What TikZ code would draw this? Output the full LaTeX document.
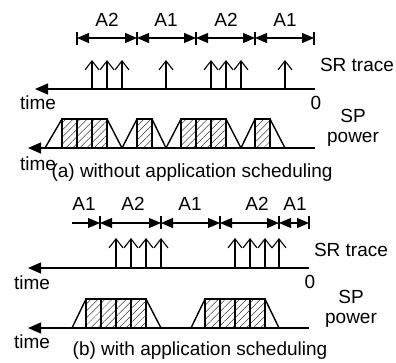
\documentclass[tikz,border=0pt]{standalone}
\usepackage{fontspec}
\setmainfont{Liberation Sans}
\usetikzlibrary{arrows.meta,patterns.meta}
\begin{document}
\begin{tikzpicture}[x=1pt,y=-1pt,
  lbl/.style={font=\fontsize{19}{21}\selectfont, inner sep=0pt},
  axis/.style={line width=1.2pt, -{Triangle[length=13pt,width=11pt]}},
  dimarr/.style={line width=1.1pt, {Triangle[length=12pt,width=10pt]}-{Triangle[length=12pt,width=10pt]}},
  dimone/.style={line width=1.1pt, -{Triangle[length=12pt,width=10pt]}},
  tickmark/.style={line width=1.1pt},
  srarr/.style={line width=1.1pt, -{Straight Barb[length=9pt,width=14pt,line width=1.1pt]}},
  trap/.style={line width=1.4pt},
  hatch/.style={line width=1.4pt, pattern={Lines[angle=45,distance=5pt,line width=0.35pt]}}
]
\useasboundingbox (0,0) rectangle (396,362);

% ---------------- (a) ----------------
\foreach \x [count=\i] in {77,137,196,255,314} {
  \coordinate (at\i) at (\x,38);
  \draw[tickmark] (\x,32) -- (\x,45);
}
\draw[dimarr] (at1) -- (at2);
\draw[dimarr] (at2) -- (at3);
\draw[dimarr] (at3) -- (at4);
\draw[dimarr] (at4) -- (at5);
\node[lbl] (la1) at (107,20) {A2};
\node[lbl] (la2) at (166,20) {A1};
\node[lbl] (la3) at (226,20) {A2};
\node[lbl] (la4) at (285,20) {A1};

% SR trace
\coordinate (asr0) at (315,89);
\coordinate (asr1) at (35,89);
\draw[axis] (asr0) -- (asr1);
\foreach \x in {92,107,122,166,211,226,241,285}
  \draw[srarr] (\x,89) -- (\x,60);
\node[lbl] (atime1) at (38,103) {time};
\node[lbl] (azero) at (316,103) {0};
\node[lbl] (asrt) at (357,65) {SR trace};

% SP power
\foreach \a/\b in {62/77,77/92,92/107,137/152,181/196,196/211,211/226,255/270}
  \draw[hatch] (\a,148) rectangle (\b,119);
\draw[trap] (45,148) -- (62,119) -- (107,119) -- (122,148);
\draw[trap] (122,148) -- (137,119) -- (152,119) -- (166,148);
\draw[trap] (166,148) -- (181,119) -- (226,119) -- (241,148);
\draw[trap] (241,148) -- (255,119) -- (270,119) -- (285,148);
\coordinate (asp0) at (315,148);
\coordinate (asp1) at (28,148);
\draw[axis] (asp0) -- (asp1);
\node[lbl, align=center] (asp) at (353,128) {SP\\[-1pt]power};
\node[lbl] (atime2) at (38,164) {time};
\node[lbl] (acap) at (192,173) {(a) without application scheduling};

% ---------------- (b) ----------------
\coordinate (bt0) at (72,223);
\foreach \x [count=\i] in {100,161,220,279,309} {
  \coordinate (bt\i) at (\x,223);
  \draw[tickmark] (\x,216) -- (\x,229);
}
\draw[dimone] (bt0) -- (bt1);
\draw[dimarr] (bt1) -- (bt2);
\draw[dimarr] (bt2) -- (bt3);
\draw[dimarr] (bt3) -- (bt4);
\draw[dimarr] (bt4) -- (bt5);
\node[lbl] (lb1) at (84,204) {A1};
\node[lbl] (lb2) at (133,204) {A2};
\node[lbl] (lb3) at (190,204) {A1};
\node[lbl] (lb4) at (257,204) {A2};
\node[lbl] (lb5) at (295,204) {A1};

% SR trace
\coordinate (bsr0) at (309,268);
\coordinate (bsr1) at (28,268);
\draw[axis] (bsr0) -- (bsr1);
\foreach \x in {116,131,146,161,235,250,265,279}
  \draw[srarr] (\x,268) -- (\x,238);
\node[lbl] (btime1) at (32,283) {time};
\node[lbl] (bzero) at (310,282) {0};
\node[lbl] (bsrt) at (351,250) {SR trace};

% SP power
\foreach \a/\b in {86/101,101/116,116/131,131/146,205/220,220/235,235/250,250/265}
  \draw[hatch] (\a,328) rectangle (\b,299);
\draw[trap] (72,328) -- (86,299) -- (146,299) -- (161,328);
\draw[trap] (191,328) -- (205,299) -- (265,299) -- (279,328);
\coordinate (bsp0) at (309,328);
\coordinate (bsp1) at (28,328);
\draw[axis] (bsp0) -- (bsp1);
\node[lbl, align=center] (bsp) at (351,309) {SP\\[-1pt]power};
\node[lbl] (btime2) at (32,342) {time};
\node[lbl] (bcap) at (200,351) {(b) with application scheduling};
\end{tikzpicture}
\end{document}
